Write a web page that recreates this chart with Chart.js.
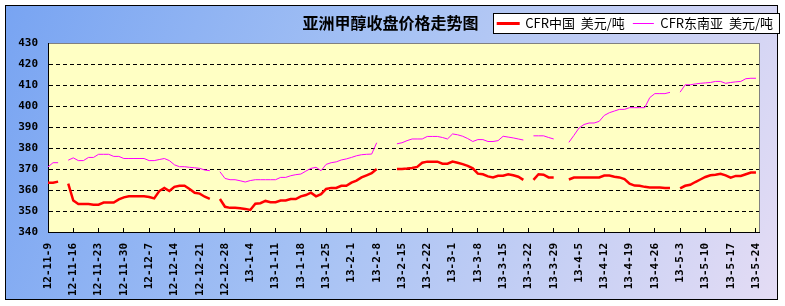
<!DOCTYPE html>
<html>
<head>
<meta charset="utf-8">
<script src="https://cdn.jsdelivr.net/npm/chart.js@4.4.1/dist/chart.umd.min.js"></script>
<style>
  html, body { margin: 0; padding: 0; background: #fff; }
  #wrap { position: absolute; left: 0; top: 0; width: 785px; height: 306px; }
</style>
</head>
<body>
<div id="wrap"><canvas id="c" width="785" height="306"></canvas></div>
<script>
// ---- data ----
const titleText = '亚洲甲醇收盘价格走势图';
const seriesNames = ['CFR中国  美元/吨', 'CFR东南亚  美元/吨'];
const seriesColors = ['#ff0000', '#ff00ff'];
const tickLabels = ['12-11-9','12-11-16','12-11-23','12-11-30','12-12-7','12-12-14','12-12-21','12-12-28',
  '13-1-4','13-1-11','13-1-18','13-1-25','13-2-1','13-2-8','13-2-15','13-2-22','13-3-1','13-3-8',
  '13-3-15','13-3-22','13-3-29','13-4-5','13-4-12','13-4-19','13-4-26','13-5-3','13-5-10','13-5-17','13-5-24'];

const cfrChina = [
  363.5,363.5,364,null,363,355,353.3,353.3,353.3,353,
  353,354,354,354,355.5,356.5,357,357,357,357,
  356.7,356,359.5,361,359.5,361.5,362,362,360.5,358.7,
  358.3,356.8,355.8,null,355.7,352,351.5,351.5,351.3,351,
  350.5,353.5,353.7,354.8,354.2,354.2,355,355,355.7,355.7,
  357,357.6,358.7,357,358,360.5,361,361,362,362,
  363.5,364.5,366,367,368,370,null,null,null,370,
  370,370.2,370.5,371,373,373.5,373.5,373.5,372.5,372.5,
  373.5,373,372.3,371.5,370.3,367.8,367.5,366.5,366,366.8,
  366.8,367.5,367,366.3,364.8,null,364.8,367.5,367.3,366,
  366,null,null,365,365.9,365.9,365.9,365.9,365.9,366,
  366.9,366.9,366.3,366,365.2,363,362.1,362,361.5,361.2,
  361.2,361.2,361,361,null,360.8,362,362.5,363.8,365,
  366.2,367,367.3,367.7,367,365.9,366.7,366.7,367.5,368.3,
  368.3
];
const cfrSEAsia = [
  371,373,373,null,374.2,375.3,374,374,375.5,375.5,
  377,377,377,376,376,375,375,375,375,375,
  374,374,374.5,375,374,372,371.1,371.1,370.8,370.6,
  370.3,369.5,369.2,null,368.7,365.5,364.9,364.9,364.4,363.8,
  364.5,364.9,364.9,364.9,364.9,364.9,366,366,366.8,367.3,
  367.6,369,370.3,370.8,369.2,372.2,373,373.4,374.3,374.8,
  375.5,376.3,376.8,377,377.1,382.5,null,null,null,382,
  382.5,383.5,384.3,384.3,384.3,385.5,385.5,385.5,385,384.3,
  386.7,386.3,385.6,384.5,383.1,384,384,383.1,383.1,383.5,
  385.6,385.2,384.8,384.3,383.8,null,385.8,385.8,385.8,385,
  384.3,null,null,382.7,386,389.5,391.2,391.9,391.9,392.7,
  395.5,396.8,397.6,398.4,398.4,399.2,399.2,399.2,399.2,404,
  405.9,405.9,405.9,406.5,null,406.6,410.1,410.1,410.5,410.8,
  411,411.2,411.7,411.7,410.8,411.2,411.5,411.7,413,413.2,
  413.2
];

// trading-day categories (weekdays starting 2012-11-09)
const categories = (() => {
  const out = []; const d = new Date(2012, 10, 9);
  while (out.length < cfrChina.length) {
    const w = d.getDay();
    if (w !== 0 && w !== 6) out.push(String(d.getFullYear()).slice(2) + '-' + (d.getMonth() + 1) + '-' + d.getDate());
    d.setDate(d.getDate() + 1);
  }
  return out;
})();

const toPts = arr => arr.map((v, i) => ({ x: i, y: v }));
const monoBold = { family: "'DejaVu Sans Mono', monospace", size: 11, weight: 'bold' };

const backdrop = {
  id: 'backdrop',
  beforeDraw(chart) {
    const ctx = chart.ctx, a = chart.chartArea;
    ctx.save();
    ctx.fillStyle = '#ffffff';
    ctx.fillRect(0, 0, chart.width, chart.height);
    const g = ctx.createLinearGradient(5, 5, 778, 300);
    g.addColorStop(0, '#78a4f2');
    g.addColorStop(0.45, '#a6c2f4');
    g.addColorStop(1, '#e4dcf4');
    ctx.fillStyle = g;
    ctx.fillRect(5, 5, 773, 295);
    ctx.strokeStyle = '#000';
    ctx.lineWidth = 1;
    ctx.strokeRect(5.5, 5.5, 772, 294);
    // plot area
    ctx.fillStyle = '#ffffc4';
    ctx.fillRect(a.left, a.top, a.right - a.left, a.bottom - a.top);
    ctx.strokeStyle = '#808080';
    ctx.strokeRect(Math.round(a.left) + 0.5, Math.round(a.top) + 0.5, Math.round(a.right - a.left), Math.round(a.bottom - a.top));
    // legend frame
    const hb = chart.legend && chart.legend.legendHitBoxes;
    if (hb && hb.length) {
      const first = hb[0], last = hb[hb.length - 1];
      const l = Math.round(first.left - 5), t = Math.round(first.top - 4);
      const r = Math.round(last.left + last.width + 6), b = Math.round(first.top + 16);
      ctx.fillStyle = '#ffffff';
      ctx.fillRect(l, t, r - l, b - t);
      ctx.strokeStyle = '#000';
      ctx.strokeRect(l + 0.5, t + 0.5, r - l, b - t);
    }
    ctx.restore();
  }
};

new Chart(document.getElementById('c'), {
  type: 'line',
  data: {
    datasets: [
      { label: seriesNames[0], data: toPts(cfrChina), borderColor: seriesColors[0], backgroundColor: seriesColors[0],
        borderWidth: 2.5, pointRadius: 0, tension: 0, spanGaps: false, xAxisID: 'x', yAxisID: 'y' },
      { label: seriesNames[1], data: toPts(cfrSEAsia), borderColor: seriesColors[1], backgroundColor: seriesColors[1],
        borderWidth: 1, pointRadius: 0, tension: 0, spanGaps: false, xAxisID: 'x', yAxisID: 'y' }
    ]
  },
  options: {
    responsive: false,
    animation: false,
    events: [],
    layout: { padding: { left: 0, right: 4, top: 0, bottom: 0 } },
    plugins: {
      tooltip: { enabled: false },
      title: {
        display: true, text: titleText, color: '#000', align: 'center',
        font: { family: "'Noto Sans CJK SC', sans-serif", size: 16, weight: 'bold', lineHeight: 1.2 },
        padding: { top: 13, bottom: -23.2 }
      },
      legend: {
        display: true, position: 'top', align: 'end',
        labels: {
          color: '#000', boxWidth: 21, boxHeight: 1, padding: 8,
          font: { family: "'Noto Sans CJK SC', sans-serif", size: 13 },
          generateLabels(chart) {
            const items = Chart.defaults.plugins.legend.labels.generateLabels(chart);
            items.forEach((it, i) => {
              const col = seriesColors[i];
              it.fillStyle = col;
              it.strokeStyle = col;
              it.lineWidth = i === 0 ? 2 : 0;
            });
            return items;
          }
        }
      }
    },
    scales: {
      x: {
        type: 'linear', position: 'bottom', min: 0, max: 140.6,
        ticks: {
          stepSize: 5, autoSkip: false, maxTicksLimit: 200, includeBounds: false,
          maxRotation: 90, minRotation: 90, padding: 15, color: '#000', font: monoBold,
          callback: v => (v % 5 === 0 && tickLabels[v / 5] !== undefined) ? tickLabels[v / 5] : ''
        },
        grid: { display: true, drawOnChartArea: false, drawTicks: true, tickLength: -4, tickColor: '#000', color: '#000' },
        border: { display: true, color: '#000', width: 1 },
        afterFit(s) { s.height = 74; }
      },
      xt: {
        type: 'linear', position: 'top', display: true,
        grid: { display: false, drawTicks: false }, ticks: { display: false }, border: { display: false },
        afterFit(s) { s.height = 3; }
      },
      y: {
        type: 'linear', position: 'left', min: 340, max: 430,
        ticks: { stepSize: 10, padding: 10, color: '#000', font: monoBold },
        grid: {
          drawTicks: false, lineWidth: 1,
          color: c => (c.tick && (c.tick.value === 340 || c.tick.value === 430)) ? 'rgba(0,0,0,0)' : '#000'
        },
        border: { display: true, color: '#000', width: 1, dash: [4, 3] },
        afterFit(s) { s.width = 48; }
      },
      y2: {
        type: 'linear', position: 'right', display: true,
        grid: { display: false, drawTicks: false }, ticks: { display: false }, border: { display: false },
        afterFit(s) { s.width = 22; }
      }
    }
  },
  plugins: [backdrop]
});
</script>
</body>
</html>
